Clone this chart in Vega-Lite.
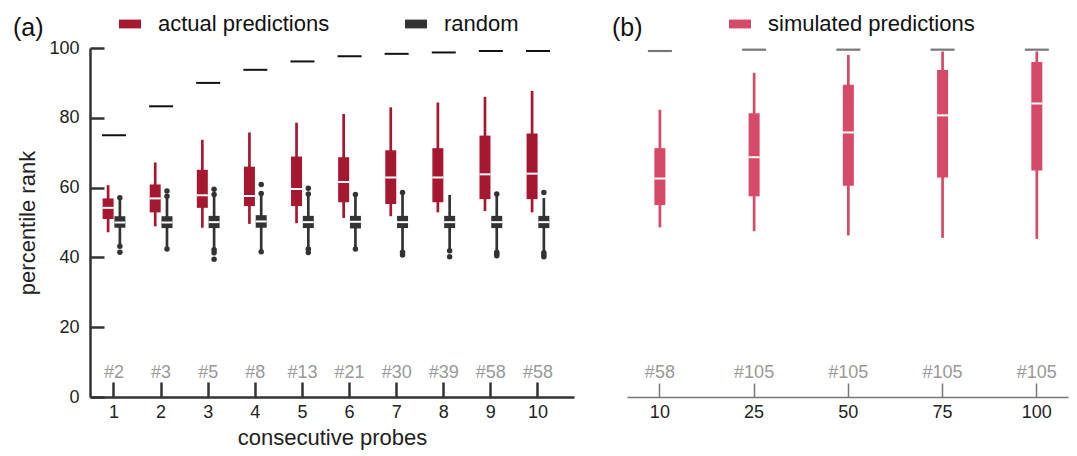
{
  "$schema": "https://vega.github.io/schema/vega-lite/v6.json",
  "padding": {"left": 13, "right": 9, "top": 13, "bottom": 5},
  "background": "white",
  "config": {
    "font": "Liberation Sans",
    "view": {"stroke": null},
    "axis": {
      "grid": false,
      "labelFont": "Liberation Sans",
      "labelFontSize": 18,
      "labelColor": "#222",
      "titleFont": "Liberation Sans",
      "titleFontSize": 22,
      "titleFontWeight": "normal",
      "titleColor": "#222",
      "domainColor": "#333",
      "domainWidth": 2.5,
      "tickColor": "#333",
      "tickWidth": 2.5
    },
    "legend": {
      "labelFont": "Liberation Sans",
      "labelFontSize": 22,
      "labelColor": "#111",
      "labelLimit": 500
    },
    "title": {"font": "Liberation Sans", "fontSize": 25, "fontWeight": "normal", "anchor": "start", "frame": "group", "color": "#111"}
  },
  "datasets": {
    "actual": [
      {"probe": 1, "group": "actual predictions", "lo": 47.2, "q1": 51.0, "med": 54.2, "q3": 56.9, "hi": 60.7},
      {"probe": 2, "group": "actual predictions", "lo": 48.9, "q1": 52.9, "med": 56.9, "q3": 60.9, "hi": 67.2},
      {"probe": 3, "group": "actual predictions", "lo": 48.5, "q1": 54.2, "med": 57.8, "q3": 65.1, "hi": 73.7},
      {"probe": 4, "group": "actual predictions", "lo": 49.6, "q1": 54.7, "med": 57.6, "q3": 66.0, "hi": 75.8},
      {"probe": 5, "group": "actual predictions", "lo": 49.8, "q1": 54.7, "med": 59.6, "q3": 68.9, "hi": 78.6},
      {"probe": 6, "group": "actual predictions", "lo": 51.3, "q1": 55.8, "med": 61.6, "q3": 68.7, "hi": 81.1},
      {"probe": 7, "group": "actual predictions", "lo": 51.8, "q1": 55.3, "med": 62.9, "q3": 70.7, "hi": 83.0},
      {"probe": 8, "group": "actual predictions", "lo": 52.9, "q1": 55.8, "med": 62.9, "q3": 71.3, "hi": 84.4},
      {"probe": 9, "group": "actual predictions", "lo": 53.3, "q1": 56.7, "med": 63.8, "q3": 74.9, "hi": 86.0},
      {"probe": 10, "group": "actual predictions", "lo": 52.9, "q1": 56.7, "med": 64.0, "q3": 75.5, "hi": 87.7},
      {"probe": 1, "group": "random", "lo": 43.2, "q1": 48.5, "med": 50.0, "q3": 51.8, "hi": 57.1},
      {"probe": 2, "group": "random", "lo": 42.4, "q1": 48.4, "med": 50.0, "q3": 51.8, "hi": 57.5},
      {"probe": 3, "group": "random", "lo": 42.2, "q1": 48.4, "med": 50.1, "q3": 51.9, "hi": 58.0},
      {"probe": 4, "group": "random", "lo": 41.6, "q1": 48.5, "med": 50.3, "q3": 52.1, "hi": 58.3},
      {"probe": 5, "group": "random", "lo": 42.4, "q1": 48.4, "med": 50.1, "q3": 51.9, "hi": 58.2},
      {"probe": 6, "group": "random", "lo": 42.4, "q1": 48.3, "med": 50.2, "q3": 51.9, "hi": 58.0},
      {"probe": 7, "group": "random", "lo": 41.5, "q1": 48.4, "med": 50.1, "q3": 51.9, "hi": 58.6},
      {"probe": 8, "group": "random", "lo": 41.9, "q1": 48.4, "med": 50.1, "q3": 51.9, "hi": 57.9},
      {"probe": 9, "group": "random", "lo": 41.5, "q1": 48.4, "med": 50.1, "q3": 51.9, "hi": 58.2},
      {"probe": 10, "group": "random", "lo": 41.3, "q1": 48.4, "med": 50.1, "q3": 51.9, "hi": 57.0}
    ],
    "outliers": [
      {"probe": 1, "group": "random", "value": 57.1}, {"probe": 1, "group": "random", "value": 43.2}, {"probe": 1, "group": "random", "value": 41.5},
      {"probe": 2, "group": "random", "value": 59.0}, {"probe": 2, "group": "random", "value": 57.5}, {"probe": 2, "group": "random", "value": 42.4},
      {"probe": 3, "group": "random", "value": 59.5}, {"probe": 3, "group": "random", "value": 58.0}, {"probe": 3, "group": "random", "value": 42.2}, {"probe": 3, "group": "random", "value": 41.3}, {"probe": 3, "group": "random", "value": 39.5},
      {"probe": 4, "group": "random", "value": 60.9}, {"probe": 4, "group": "random", "value": 58.3}, {"probe": 4, "group": "random", "value": 41.6},
      {"probe": 5, "group": "random", "value": 59.8}, {"probe": 5, "group": "random", "value": 58.2}, {"probe": 5, "group": "random", "value": 42.4}, {"probe": 5, "group": "random", "value": 41.4},
      {"probe": 6, "group": "random", "value": 58.0}, {"probe": 6, "group": "random", "value": 42.4},
      {"probe": 7, "group": "random", "value": 58.6}, {"probe": 7, "group": "random", "value": 41.5}, {"probe": 7, "group": "random", "value": 40.7},
      {"probe": 8, "group": "random", "value": 41.9}, {"probe": 8, "group": "random", "value": 40.2},
      {"probe": 9, "group": "random", "value": 58.2}, {"probe": 9, "group": "random", "value": 41.5}, {"probe": 9, "group": "random", "value": 41.0}, {"probe": 9, "group": "random", "value": 40.5},
      {"probe": 10, "group": "random", "value": 58.6}, {"probe": 10, "group": "random", "value": 41.3}, {"probe": 10, "group": "random", "value": 40.7}, {"probe": 10, "group": "random", "value": 40.2}
    ],
    "maxima": [
      {"probe": 1, "maxrank": 75.0, "label": "#2"},
      {"probe": 2, "maxrank": 83.3, "label": "#3"},
      {"probe": 3, "maxrank": 90.0, "label": "#5"},
      {"probe": 4, "maxrank": 93.75, "label": "#8"},
      {"probe": 5, "maxrank": 96.15, "label": "#13"},
      {"probe": 6, "maxrank": 97.62, "label": "#21"},
      {"probe": 7, "maxrank": 98.33, "label": "#30"},
      {"probe": 8, "maxrank": 98.72, "label": "#39"},
      {"probe": 9, "maxrank": 99.14, "label": "#58"},
      {"probe": 10, "maxrank": 99.14, "label": "#58"}
    ],
    "simulated": [
      {"n": 10, "series": "simulated predictions", "lo": 48.6, "q1": 55.0, "med": 62.6, "q3": 71.3, "hi": 82.3, "maxrank": 99.14, "label": "#58"},
      {"n": 25, "series": "simulated predictions", "lo": 47.5, "q1": 57.5, "med": 68.7, "q3": 81.3, "hi": 92.9, "maxrank": 99.52, "label": "#105"},
      {"n": 50, "series": "simulated predictions", "lo": 46.3, "q1": 60.5, "med": 75.8, "q3": 89.5, "hi": 98.0, "maxrank": 99.52, "label": "#105"},
      {"n": 75, "series": "simulated predictions", "lo": 45.6, "q1": 62.9, "med": 80.7, "q3": 93.7, "hi": 99.0, "maxrank": 99.52, "label": "#105"},
      {"n": 100, "series": "simulated predictions", "lo": 45.3, "q1": 64.9, "med": 84.1, "q3": 96.0, "hi": 99.0, "maxrank": 99.52, "label": "#105"}
    ]
  },
  "spacing": 38,
  "resolve": {
    "scale": {"color": "independent", "x": "independent", "xOffset": "independent", "y": "independent"},
    "legend": {"color": "independent"}
  },
  "hconcat": [
    {
      "width": 484,
      "height": 349,
      "title": {"text": "(a)", "dx": -77, "dy": 32},
      "layer": [
        {
          "data": {"name": "actual"},
          "mark": {"type": "bar", "width": 11},
          "encoding": {
            "x": {"field": "probe", "type": "ordinal", "scale": {"type": "band", "paddingInner": 0.5, "paddingOuter": 0.387, "align": 0.335},
                  "axis": {"title": "consecutive probes", "labelAngle": 0, "tickSize": -15, "labelPadding": 21, "titlePadding": 6}},
            "xOffset": {"field": "group", "type": "nominal", "scale": {"domain": ["actual predictions", "random"], "paddingInner": 0, "paddingOuter": 0}},
            "y": {"field": "q1", "type": "quantitative", "title": "percentile rank", "scale": {"domain": [0, 100], "nice": false},
                  "axis": {"values": [0, 20, 40, 60, 80, 100], "tickSize": -14, "labelPadding": 25, "titlePadding": 9}},
            "y2": {"field": "q3"},
            "color": {"field": "group", "type": "nominal",
                      "scale": {"domain": ["actual predictions", "random"], "range": ["#a51830", "#333333"]},
                      "legend": {"orient": "none", "legendX": 29, "legendY": -35, "direction": "horizontal", "title": null,
                                 "symbolType": "M-1,-0.4H1V0.4H-1Z", "symbolSize": 484, "symbolStrokeWidth": 0,
                                 "columnPadding": 75, "labelOffset": 17}}
          }
        },
        {
          "data": {"name": "actual"},
          "mark": {"type": "rule", "strokeWidth": 2.7},
          "encoding": {
            "x": {"field": "probe", "type": "ordinal"},
            "xOffset": {"field": "group", "type": "nominal"},
            "y": {"field": "lo", "type": "quantitative", "title": "percentile rank"},
            "y2": {"field": "hi"},
            "color": {"field": "group", "type": "nominal"}
          }
        },
        {
          "data": {"name": "actual"},
          "mark": {"type": "tick", "color": "white", "thickness": 2, "size": 11, "opacity": 1},
          "encoding": {
            "x": {"field": "probe", "type": "ordinal"},
            "xOffset": {"field": "group", "type": "nominal"},
            "y": {"field": "med", "type": "quantitative", "title": "percentile rank"}
          }
        },
        {
          "data": {"name": "outliers"},
          "mark": {"type": "point", "filled": true, "size": 30, "color": "#333333", "opacity": 1},
          "encoding": {
            "x": {"field": "probe", "type": "ordinal"},
            "xOffset": {"field": "group", "type": "nominal"},
            "y": {"field": "value", "type": "quantitative", "title": "percentile rank"}
          }
        },
        {
          "data": {"name": "maxima"},
          "mark": {"type": "tick", "color": "#111111", "thickness": 2, "size": 24, "opacity": 1},
          "encoding": {
            "x": {"field": "probe", "type": "ordinal"},
            "y": {"field": "maxrank", "type": "quantitative", "title": "percentile rank"}
          }
        },
        {
          "data": {"name": "maxima"},
          "mark": {"type": "text", "fontSize": 18, "color": "#999999", "baseline": "middle", "dy": -24},
          "encoding": {
            "x": {"field": "probe", "type": "ordinal"},
            "y": {"datum": 0, "type": "quantitative"},
            "text": {"field": "label"}
          }
        }
      ]
    },
    {
      "width": 441,
      "height": 349,
      "title": {"text": "(b)", "dx": -15, "dy": 32},
      "layer": [
        {
          "data": {"name": "simulated"},
          "mark": {"type": "bar", "width": 11},
          "encoding": {
            "x": {"field": "n", "type": "ordinal", "scale": {"type": "band", "paddingInner": 0.5, "paddingOuter": 0.09, "align": 0.55},
                  "axis": {"title": null, "labelAngle": 0, "tickSize": -14, "labelPadding": 20, "domainColor": "#777777", "domainWidth": 1.5, "tickColor": "#777777", "tickWidth": 1.5}},
            "y": {"field": "q1", "type": "quantitative", "scale": {"domain": [0, 100], "nice": false}, "axis": null},
            "y2": {"field": "q3"},
            "color": {"field": "series", "type": "nominal",
                      "scale": {"domain": ["simulated predictions"], "range": ["#d64a68"]},
                      "legend": {"orient": "none", "legendX": 102, "legendY": -35, "direction": "horizontal", "title": null,
                                 "symbolType": "M-1,-0.4H1V0.4H-1Z", "symbolSize": 484, "symbolStrokeWidth": 0, "labelOffset": 17}}
          }
        },
        {
          "data": {"name": "simulated"},
          "mark": {"type": "rule", "strokeWidth": 2.7},
          "encoding": {
            "x": {"field": "n", "type": "ordinal"},
            "y": {"field": "lo", "type": "quantitative"},
            "y2": {"field": "hi"},
            "color": {"field": "series", "type": "nominal"}
          }
        },
        {
          "data": {"name": "simulated"},
          "mark": {"type": "tick", "color": "white", "thickness": 2, "size": 11, "opacity": 1},
          "encoding": {
            "x": {"field": "n", "type": "ordinal"},
            "y": {"field": "med", "type": "quantitative"}
          }
        },
        {
          "data": {"name": "simulated"},
          "mark": {"type": "tick", "color": "#777777", "thickness": 2.2, "size": 24, "opacity": 1},
          "encoding": {
            "x": {"field": "n", "type": "ordinal"},
            "y": {"field": "maxrank", "type": "quantitative"}
          }
        },
        {
          "data": {"name": "simulated"},
          "mark": {"type": "text", "fontSize": 18, "color": "#999999", "baseline": "middle", "dy": -24},
          "encoding": {
            "x": {"field": "n", "type": "ordinal"},
            "y": {"datum": 0, "type": "quantitative"},
            "text": {"field": "label"}
          }
        }
      ]
    }
  ]
}
